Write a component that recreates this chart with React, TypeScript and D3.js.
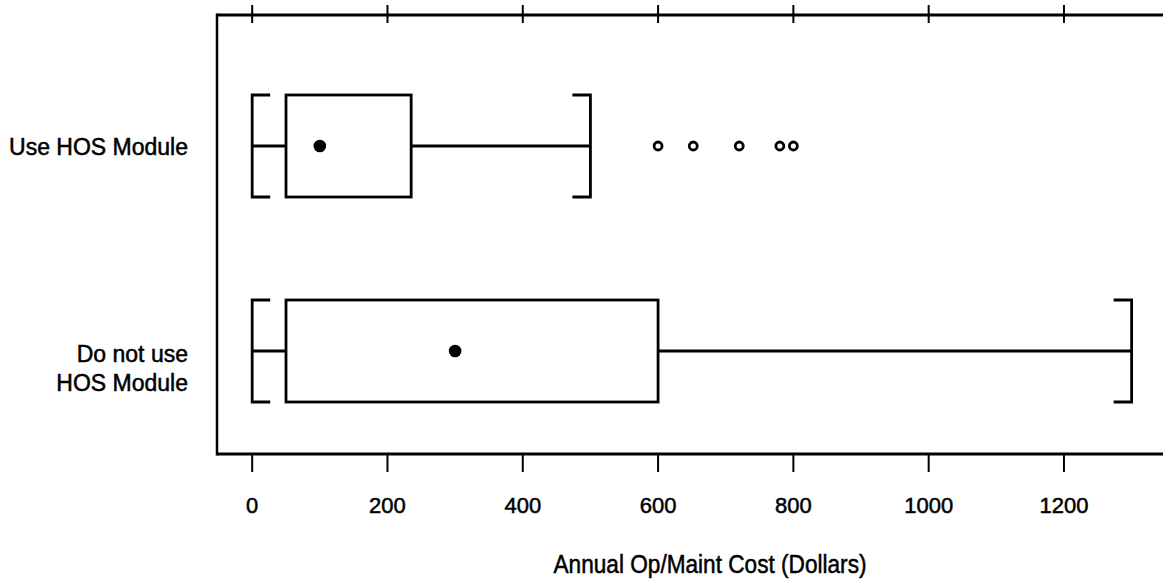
import React from "react";
import * as d3 from "d3";

const categories = ["Use HOS Module", "Do not use HOS Module"];
const categoryLines = [["Use HOS Module"], ["Do not use", "HOS Module"]];
const whiskerLow = [0, 0];
const q1 = [50, 50];
const q3 = [235, 600];
const whiskerHigh = [500, 1300];
const means = [100, 300];
const outliers = [[600, 652, 720, 780, 800], []];
const tickValues = [0, 200, 400, 600, 800, 1000, 1200];
const xTitle = "Annual Op/Maint Cost (Dollars)";

const W = 1163;
const H = 587;

export default function App() {
  const x = d3.scaleLinear().domain([-52, 1407]).range([217, 1204]);
  const y = d3.scalePoint<string>().domain(categories).range([146, 351]);
  const half = 51;
  const serif = 18;
  const top = 15;
  const bottom = 454;
  const font = "'Liberation Sans', Arial, Helvetica, sans-serif";
  const textInk = { fill: "#000", stroke: "#000", strokeWidth: 0.5 };

  return (
    <svg width={W} height={H} style={{ position: "absolute", left: 0, top: 0, background: "#fff" }}>
      <rect x={0} y={0} width={W} height={H} fill="#fff" />
      {/* frame */}
      <line x1={x.range()[0]} x2={x.range()[1]} y1={top} y2={top} stroke="#000" strokeWidth={3} />
      <line x1={x.range()[0]} x2={x.range()[1]} y1={bottom} y2={bottom} stroke="#000" strokeWidth={3} />
      <line x1={x.range()[0]} x2={x.range()[0]} y1={top - 1.5} y2={bottom + 1.5} stroke="#000" strokeWidth={2.5} />
      {/* ticks */}
      {tickValues.map((t) => (
        <g key={t}>
          <line x1={x(t)} x2={x(t)} y1={top - 10} y2={top + 8} stroke="#000" strokeWidth={2} />
          <line x1={x(t)} x2={x(t)} y1={bottom} y2={bottom + 18} stroke="#000" strokeWidth={2} />
          <text x={x(t)} y={513} textAnchor="middle" fontFamily={font} fontSize={22} {...textInk}>
            {t}
          </text>
        </g>
      ))}
      <text x={710} y={573} textAnchor="middle" fontFamily={font} fontSize={25} textLength={313} lengthAdjust="spacingAndGlyphs" {...textInk}>
        {xTitle}
      </text>
      {/* y labels */}
      {categories.map((c, i) => {
        const lines = categoryLines[i];
        const cy = y(c) as number;
        const baselines = lines.length === 1 ? [cy + 9] : [cy + 11, cy + 40];
        return lines.map((ln, j) => (
          <text key={c + j} x={188} y={baselines[j]} textAnchor="end" fontFamily={font} fontSize={23} {...textInk}>
            {ln}
          </text>
        ));
      })}
      {/* boxes */}
      {categories.map((c, i) => {
        const cy = y(c) as number;
        const xl = x(whiskerLow[i]);
        const xh = x(whiskerHigh[i]);
        const b1 = x(q1[i]);
        const b3 = x(q3[i]);
        return (
          <g key={c} stroke="#000" fill="none">
            <path d={`M${xl + serif},${cy - half} H${xl} V${cy + half} H${xl + serif}`} strokeWidth={2.8} />
            <path d={`M${xh - serif},${cy - half} H${xh} V${cy + half} H${xh - serif}`} strokeWidth={2.8} />
            <line x1={xl} x2={b1} y1={cy} y2={cy} strokeWidth={3} />
            <line x1={b3} x2={xh} y1={cy} y2={cy} strokeWidth={3} />
            <rect x={b1} y={cy - half} width={b3 - b1} height={2 * half} strokeWidth={2.8} fill="#fff" />
            <circle cx={x(means[i])} cy={cy} r={6.3} fill="#000" stroke="none" />
            {outliers[i].map((o, k) => (
              <circle key={k} cx={x(o)} cy={cy} r={4} strokeWidth={2.8} fill="#fff" />
            ))}
          </g>
        );
      })}
    </svg>
  );
}
